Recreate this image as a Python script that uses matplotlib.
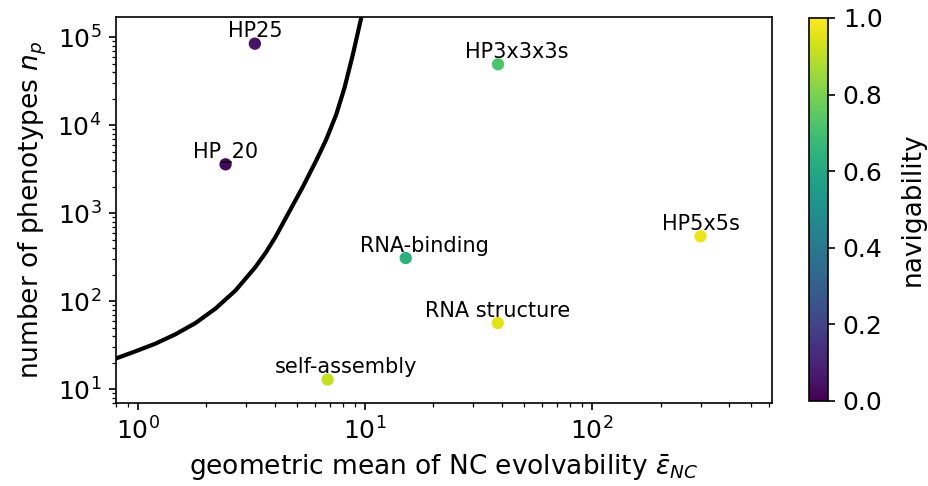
import numpy as np
import matplotlib
matplotlib.use('Agg')
import matplotlib.pyplot as plt
from matplotlib.colors import Normalize

# genotype-phenotype maps: evolvability, phenotype count, navigability
map_names = ['HP25', 'HP_20', 'HP3x3x3s', 'RNA-binding', 'HP5x5s', 'RNA structure', 'self-assembly']
evolvability = [3.27, 2.43, 38.5, 15.1, 300, 38.4, 6.84]
n_phenotypes = [8.47e4, 3.6e3, 4.93e4, 310, 548, 56.6, 12.9]
navigability = [0.05, 0.02, 0.72, 0.64, 0.97, 0.95, 0.91]
# horizontal label offsets in points
label_dx = [0, 0, 9, 9, 0, 0, 9]

# boundary curve
curve_x = [0.796, 0.975, 1.194, 1.463, 1.792, 2.194, 2.69, 3.29, 3.66, 4.03, 4.57,
           5.32, 6.10, 6.75, 7.47, 8.12, 8.84, 9.62, 9.8]
curve_y = [22.3, 27.0, 33.0, 42.2, 56.6, 82.6, 133, 245, 360, 538, 975,
           2000, 4000, 6930, 13340, 26800, 64100, 167500, 2.1e5]

fig = plt.figure(figsize=(928 / 150, 486 / 150), dpi=150)
ax = fig.add_axes([0.125, 0.171, 0.707, 0.794])
cax = fig.add_axes([0.872, 0.175, 0.0205, 0.788])

ax.plot(curve_x, curve_y, color='black', lw=2.0, solid_joinstyle='round', zorder=1)

norm = Normalize(vmin=0, vmax=1)
sc = ax.scatter(evolvability, n_phenotypes, c=navigability, cmap='viridis', norm=norm,
                s=24, zorder=3)

for name, x, y, dx in zip(map_names, evolvability, n_phenotypes, label_dx):
    ax.annotate(name, (x, y), xytext=(dx, 3), textcoords='offset points',
                ha='center', va='baseline', fontsize=10)

ax.set_xscale('log')
ax.set_yscale('log')
ax.set_xlim(0.8, 620)
ax.set_ylim(7, 1.7e5)
ax.tick_params(labelsize=12)
ax.set_xlabel(r'geometric mean of NC evolvability $\bar{\epsilon}_{NC}$', fontsize=12.7)
ax.set_ylabel(r'number of phenotypes $n_p$', fontsize=12.7)

cb = fig.colorbar(sc, cax=cax)
cb.ax.tick_params(labelsize=12)
cb.set_label('navigability', fontsize=12.7, labelpad=8)

fig.savefig('out.png', dpi=150)
